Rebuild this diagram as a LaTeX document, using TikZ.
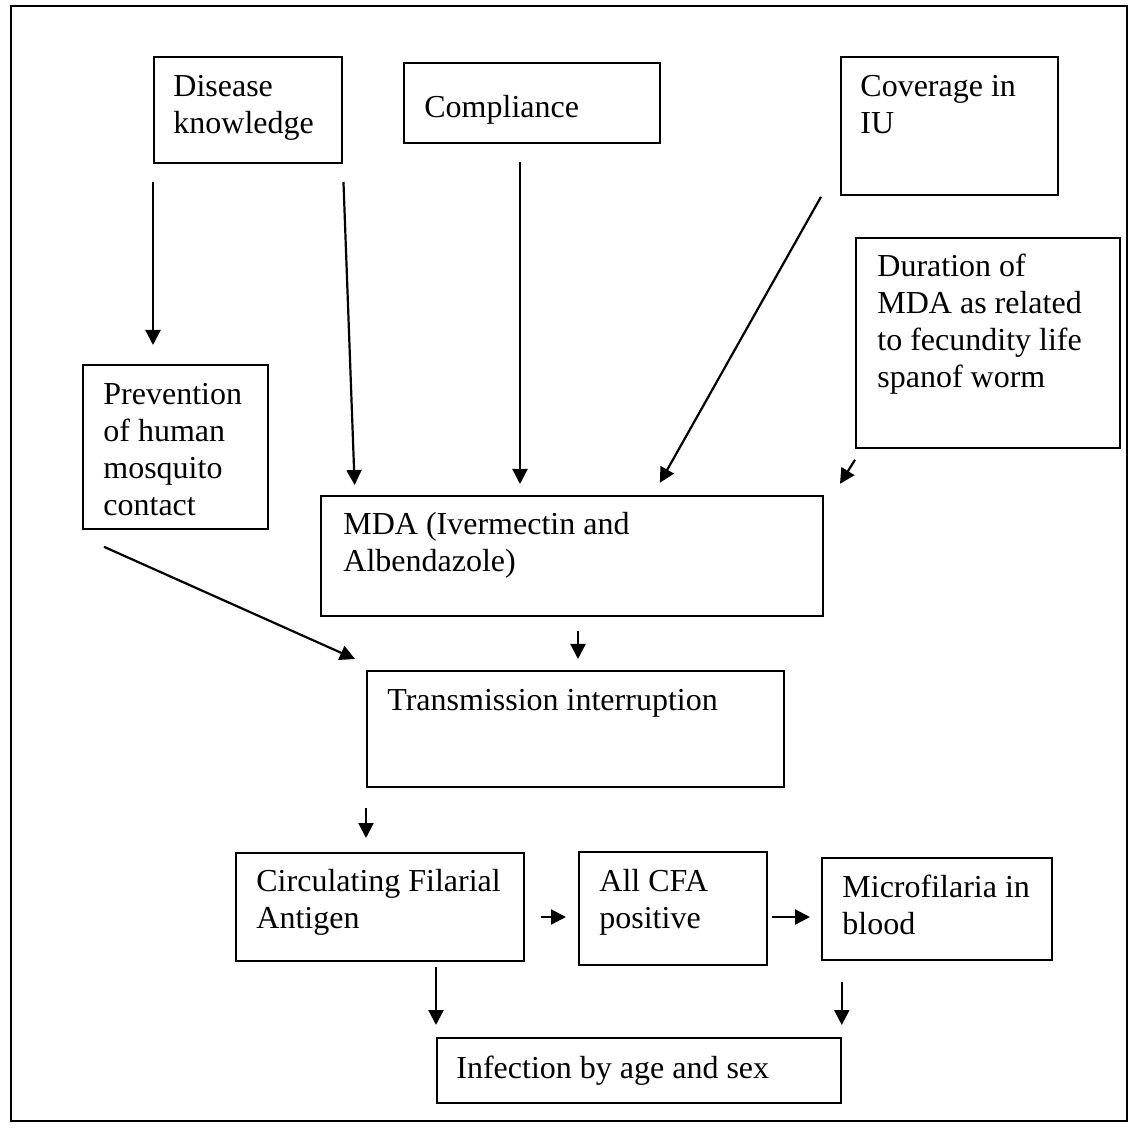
\documentclass[tikz,border=0pt]{standalone}
\usepackage{fontspec}
\setmainfont{Liberation Serif}
\usepackage{tikz}
\usetikzlibrary{arrows.meta,calc}

\begin{document}
\begin{tikzpicture}[x=0.5pt, y=-0.5pt,
        box/.style={draw, line width=0.9pt, anchor=north west, inner sep=0pt},
        txt/.style={anchor=base west, inner sep=0pt, text width=200pt, align=flush left, font=\fontsize{16}{18.5}\selectfont},
        arr/.style={-{Triangle[length=7.5pt, width=7.5pt]}, line width=1.1pt},
    ]
    \useasboundingbox (0,0) rectangle (1136,1128);
    % Frame
    \draw[line width=1.2pt] (11,6) rectangle (1127,1121);

    % Factors
    \node[box, minimum width=94pt, minimum height=53pt] (know) at (153,56) {};
    \node[txt] (know_t) at ($(know.north west)+(20,41)$) {Disease\\knowledge};

    \node[box, minimum width=128pt, minimum height=40pt] (comp) at (403,62) {};
    \node[txt] (comp_t) at ($(comp.north west)+(21,56)$) {Compliance};

    \node[box, minimum width=108.5pt, minimum height=69pt] (cov) at (840,56) {};
    \node[txt] (cov_t) at ($(cov.north west)+(20,41)$) {Coverage in\\IU};

    \node[box, minimum width=132pt, minimum height=105pt] (dur) at (855,237) {};
    \node[txt] (dur_t) at ($(dur.north west)+(22,40)$) {Duration of\\MDA as related\\to fecundity life\\spanof worm};

    \node[box, minimum width=92.5pt, minimum height=82pt] (prev) at (82,364) {};
    \node[txt] (prev_t) at ($(prev.north west)+(21,41)$) {Prevention\\of human\\mosquito\\contact};

    % MDA
    \node[box, minimum width=251pt, minimum height=60pt] (mda) at (320,495) {};
    \node[txt] (mda_t) at ($(mda.north west)+(23,40)$) {MDA (Ivermectin and\\Albendazole)};

    % Transmission
    \node[box, minimum width=208.5pt, minimum height=58pt] (trans) at (366,670) {};
    \node[txt] (trans_t) at ($(trans.north west)+(21,40)$) {Transmission interruption};

    % Outcomes
    \node[box, minimum width=144pt, minimum height=54pt] (cfa) at (235,852) {};
    \node[txt] (cfa_t) at ($(cfa.north west)+(21,39)$) {Circulating Filarial\\Antigen};

    \node[box, minimum width=94pt, minimum height=56.5pt] (allcfa) at (578,851) {};
    \node[txt] (allcfa_t) at ($(allcfa.north west)+(21,40)$) {All CFA\\positive};

    \node[box, minimum width=115pt, minimum height=51pt] (mf) at (821,857) {};
    \node[txt] (mf_t) at ($(mf.north west)+(21,40)$) {Microfilaria in\\blood};

    \node[box, minimum width=202pt, minimum height=32.5pt] (inf) at (436,1037) {};
    \node[txt] (inf_t) at ($(inf.north west)+(20,41)$) {Infection by age and sex};

    % Ends of slanted arrows
    \coordinate (mda_in1) at ($(mda.north west)+(35,0)$);
    \coordinate (comp_out) at ($(comp.south west)+(117,0)$);
    \coordinate (cov_out) at ($(cov.south west)+(-19,1)$);
    \coordinate (mda_in3) at ($(mda.north west)+(333,0)$);
    \coordinate (dur_out) at ($(dur.south west)+(0,11)$);
    \coordinate (dur_in) at ($(dur.south west)+(-15,35)$);
    \coordinate (prev_out) at ($(prev.south west)+(22,17)$);
    \coordinate (trans_in) at ($(trans.north west)+(-11,-11)$);
    \coordinate (mda_out) at ($(mda.south west)+(258,0)$);
    \coordinate (row) at ($(cfa.north east)+(0,65)$);

    % Arrows
    \draw[arr, shorten <=9pt, shorten >=9.5pt] (know.south west) -- (know.south west |- prev.north);
    \draw[arr, shorten <=9pt, shorten >=5pt] (know.south east) -- (mda_in1);
    \draw[arr, shorten <=9pt, shorten >=5.5pt] (comp_out) -- (comp_out |- mda.north);
    \draw[arr, shorten >=7pt] (cov_out) -- (mda_in3);
    \draw[arr] (dur_out) -- (dur_in);
    \draw[arr] (prev_out) -- (trans_in);
    \draw[arr, shorten <=7pt, shorten >=5.5pt] (mda_out) -- (mda_out |- trans.north);
    \draw[arr, shorten <=10pt, shorten >=7pt] (trans.south west) -- (trans.south west |- cfa.north);
    \draw[arr, shorten <=8pt, shorten >=6pt] (row) -- (row -| allcfa.west);
    \draw[arr, shorten <=2pt, shorten >=5.5pt] (row -| allcfa.east) -- (row -| mf.west);
    \draw[arr, shorten <=2.5pt, shorten >=6pt] (inf.north west |- cfa.south) -- (inf.north west);
    \draw[arr, shorten <=10.5pt, shorten >=6pt] (inf.north east |- mf.south) -- (inf.north east);

\end{tikzpicture}
\end{document}
